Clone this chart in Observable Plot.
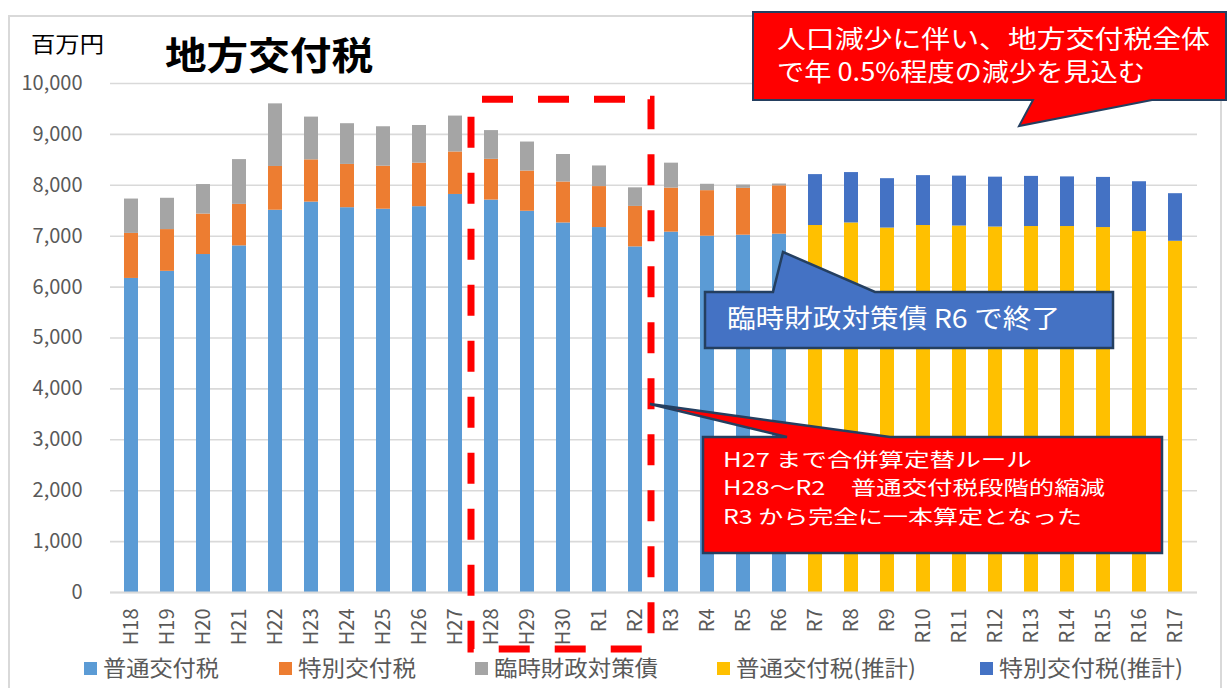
<!DOCTYPE html>
<html>
<head>
<meta charset="utf-8">
<script src="https://cdn.jsdelivr.net/npm/d3@7"></script>
<script src="https://cdn.jsdelivr.net/npm/@observablehq/plot@0.6"></script>
<style>
  html, body { margin: 0; padding: 0; background: #fff; }
  #wrap { position: relative; width: 1227px; height: 688px; overflow: hidden; }
  #wrap svg { position: absolute; left: 0; top: 0; }
</style>
</head>
<body>
<div id="wrap"></div>
<script>
// ---------- data ----------
const actualYears = ["H18","H19","H20","H21","H22","H23","H24","H25","H26","H27","H28","H29","H30","R1","R2","R3","R4","R5","R6"];
const futsu      = [6170,6310,6640,6810,7510,7670,7560,7530,7580,7820,7710,7490,7260,7170,6790,7080,7000,7020,7040];
const tokubetsu  = [885,820,795,815,860,830,850,845,855,835,800,790,805,805,795,865,895,920,950];
const rinji      = [675,615,580,880,1230,840,800,775,740,705,565,570,540,405,365,490,125,65,35];

const forecastYears = ["R7","R8","R9","R10","R11","R12","R13","R14","R15","R16","R17"];
const futsuEst      = [7210,7260,7160,7210,7200,7180,7190,7190,7170,7090,6900];
const tokubetsuEst  = [1000,990,970,980,980,980,985,975,985,980,935];

const seriesNames = ["普通交付税","特別交付税","臨時財政対策債","普通交付税(推計)","特別交付税(推計)"];
const seriesColors = ["#5b9bd5","#ed7d31","#a5a5a5","#ffc000","#4472c4"];
const yTicks = [0,1000,2000,3000,4000,5000,6000,7000,8000,9000,10000];

const categories = actualYears.concat(forecastYears);

// long table (stack order = input order)
const rows = [];
actualYears.forEach((yr, i) => rows.push({year: yr, series: seriesNames[0], value: futsu[i]}));
actualYears.forEach((yr, i) => rows.push({year: yr, series: seriesNames[1], value: tokubetsu[i]}));
actualYears.forEach((yr, i) => rows.push({year: yr, series: seriesNames[2], value: rinji[i]}));
forecastYears.forEach((yr, i) => rows.push({year: yr, series: seriesNames[3], value: futsuEst[i]}));
forecastYears.forEach((yr, i) => rows.push({year: yr, series: seriesNames[4], value: tokubetsuEst[i]}));

const FONT = "'Noto Sans CJK JP', 'Noto Sans', sans-serif";

const chart = Plot.plot({
  width: 1227,
  height: 688,
  marginLeft: 110,
  marginRight: 30,
  marginTop: 83,
  marginBottom: 96,
  style: {fontFamily: FONT, fontSize: "20px", color: "#595959", background: "transparent"},
  x: {domain: categories, paddingInner: 0.6, paddingOuter: 0.3, label: null},
  y: {domain: [0, 10000], label: null},
  color: {domain: seriesNames, range: seriesColors},
  marks: [
    Plot.gridY(yTicks, {stroke: "#d9d9d9", strokeOpacity: 1, strokeWidth: 1.6}),
    Plot.barY(rows, {x: "year", y: "value", fill: "series"}),
    Plot.ruleY([0], {stroke: "#d9d9d9", strokeWidth: 2}),
    Plot.axisY(yTicks, {tickFormat: d3.format(","), tickSize: 0, tickPadding: 28, fill: "#595959", fontSize: 20, label: null}),
    Plot.axisX({tickRotate: -90, tickSize: 0, tickPadding: 16, fill: "#595959", fontSize: 20, label: null})
  ]
});
document.getElementById("wrap").appendChild(chart);

// ---------- overlay: frame, titles, annotations, legend ----------
const xs = chart.scale("x");
const ys = chart.scale("y");
const colorScale = chart.scale("color");

const ov = d3.select("#wrap").append("svg")
  .attr("width", 1227).attr("height", 688)
  .style("font-family", FONT);

// outer chart frame
ov.append("rect").attr("x", 9).attr("y", 16).attr("width", 1212).attr("height", 690)
  .attr("fill", "none").attr("stroke", "#d9d9d9").attr("stroke-width", 2);

function txt(g, s, x, y, size, len, fill, weight) {
  return g.append("text").attr("x", x).attr("y", y)
    .attr("font-size", size).attr("fill", fill).attr("font-weight", weight || "normal")
    .attr("textLength", len).attr("lengthAdjust", "spacingAndGlyphs")
    .text(s);
}

txt(ov, "百万円", 31, 51.5, 22, 73, "#000");
txt(ov, "地方交付税", 165, 69, 38, 208, "#000", "bold");

// dashed red frame around H28 .. R2
const gap = xs.step - xs.bandwidth;
const fx0 = xs.apply("H28") - gap / 2 - 2;
const fx1 = xs.apply("R2") + xs.bandwidth + gap / 2 - 2;
const fy0 = ys.apply(9680);
const fy1 = ys.apply(-1120);
ov.append("path")
  .attr("d", `M${fx0},${fy0}H${fx1}V${fy1}H${fx0}Z`)
  .attr("fill", "none").attr("stroke", "#ff0000").attr("stroke-width", 7)
  .attr("stroke-dasharray", "31,25").attr("stroke-dashoffset", 45);

const navy = "#243f60";
// top callout
ov.append("path")
  .attr("d", "M753,12H1226V100H1152L1019,126L1033,100H753Z")
  .attr("fill", "#ff0000").attr("stroke", navy).attr("stroke-width", 2);
txt(ov, "人口減少に伴い、地方交付税全体", 777, 48, 25, 433, "#fff");
txt(ov, "で年 0.5%程度の減少を見込む", 777, 81, 25, 368, "#fff");

// blue callout
ov.append("path")
  .attr("d", "M705,292H773L783,252L875,292H1113V348H705Z")
  .attr("fill", "#4472c4").attr("stroke", navy).attr("stroke-width", 2.5);
txt(ov, "臨時財政対策債 R6 で終了", 727, 328, 26, 333, "#fff");

// bottom red callout
ov.append("path")
  .attr("d", "M703,437H787L650,404L890,437H1162V553H703Z")
  .attr("fill", "#ff0000").attr("stroke", navy).attr("stroke-width", 2.5);
txt(ov, "H27 まで合併算定替ルール", 723, 466.5, 19.5, 309, "#fff");
txt(ov, "H28～R2　普通交付税段階的縮減", 723, 495, 19.5, 382, "#fff");
txt(ov, "R3 から完全に一本算定となった", 723, 523.5, 19.5, 359, "#fff");

// legend
const legX = [84, 279, 475, 717, 980];
const legW = [116, 118, 164, 180, 184];
seriesNames.forEach((name, i) => {
  ov.append("rect").attr("x", legX[i]).attr("y", 662).attr("width", 13).attr("height", 13)
    .attr("fill", colorScale.apply(name));
  txt(ov, name, legX[i] + 19, 675.5, 22, legW[i], "#595959");
});
</script>
</body>
</html>
